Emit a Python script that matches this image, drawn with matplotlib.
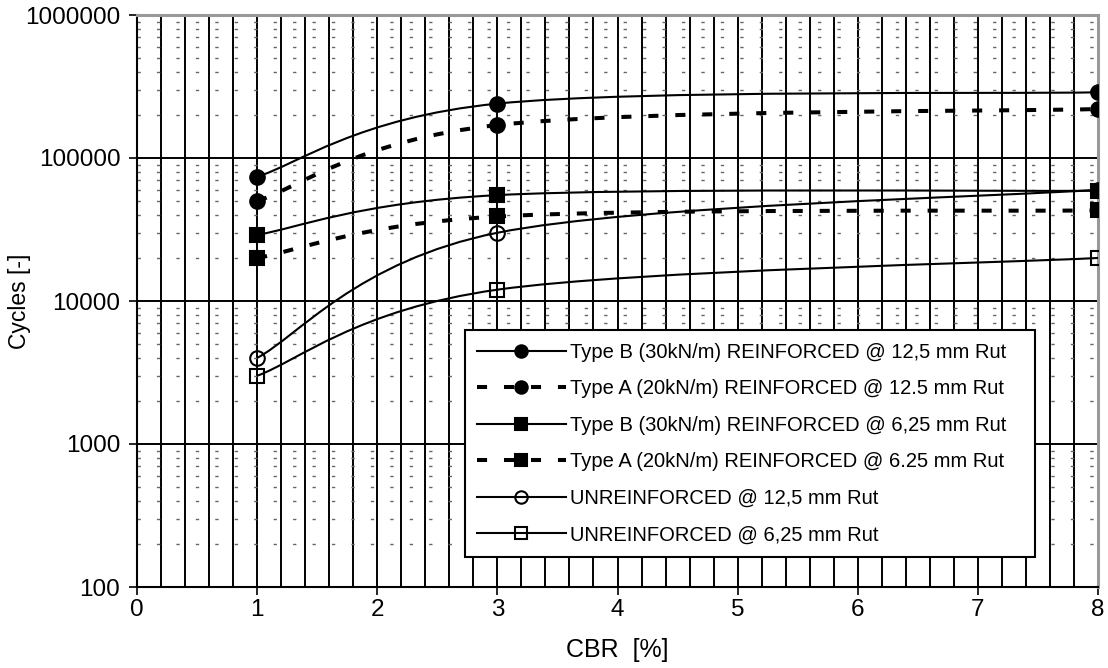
import numpy as np
import matplotlib
matplotlib.use("Agg")
import matplotlib.pyplot as plt
from matplotlib.path import Path
from matplotlib.patches import PathPatch
from matplotlib.lines import Line2D
from matplotlib.ticker import MultipleLocator, LogLocator, NullFormatter

plt.rcParams['font.family'] = ['Liberation Sans', 'DejaVu Sans']

# CBR values and cycles
cbr = [1, 3, 8]
type_b_125 = [74000, 240000, 288000]
type_a_125 = [50000, 170000, 220000]
type_b_625 = [29000, 55000, 59000]
type_a_625 = [20000, 39000, 43000]
unreinf_125 = [4000, 30000, 60000]
unreinf_625 = [3000, 12000, 20000]

series_labels = [
    "Type B (30kN/m) REINFORCED @ 12,5 mm Rut",
    "Type A (20kN/m) REINFORCED @ 12.5 mm Rut",
    "Type B (30kN/m) REINFORCED @ 6,25 mm Rut",
    "Type A (20kN/m) REINFORCED @ 6.25 mm Rut",
    "UNREINFORCED @ 12,5 mm Rut",
    "UNREINFORCED @ 6,25 mm Rut",
]
x_ticks = [0, 1, 2, 3, 4, 5, 6, 7, 8]
y_ticks = [100, 1000, 10000, 100000, 1000000]


def smooth_path(xs, ys):
    # excel-like smoothed line: bezier segments built in (x, log y) space
    px = np.array(xs, dtype=float)
    py = np.log10(np.array(ys, dtype=float))
    n = len(px)
    verts = [(px[0], py[0])]
    codes = [Path.MOVETO]
    for i in range(n - 1):
        i0 = max(i - 1, 0)
        i3 = min(i + 2, n - 1)
        c1 = (px[i] + (px[i + 1] - px[i0]) / 6, py[i] + (py[i + 1] - py[i0]) / 6)
        c2 = (px[i + 1] - (px[i3] - px[i]) / 6, py[i + 1] - (py[i3] - py[i]) / 6)
        verts += [c1, c2, (px[i + 1], py[i + 1])]
        codes += [Path.CURVE4] * 3
    verts = [(x, 10 ** y) for x, y in verts]
    return Path(verts, codes)


solid_lw = 1.5
dash_lw = 2.9
dash_style = (0, (2.5, 4.2))

styles = [
    # values, linestyle, lw, marker, size, face
    (type_b_125, '-', solid_lw, 'o', 10.5, 'black'),
    (type_a_125, dash_style, dash_lw, 'o', 10.5, 'black'),
    (type_b_625, '-', solid_lw, 's', 10, 'black'),
    (type_a_625, dash_style, dash_lw, 's', 10, 'black'),
    (unreinf_125, '-', solid_lw, 'o', 10.5, 'none'),
    (unreinf_625, '-', solid_lw, 's', 10.5, 'none'),
]

fig = plt.figure(figsize=(11.08, 6.68), dpi=100)
ax = fig.add_axes([137 / 1108, 1 - 587 / 668, (1098 - 137) / 1108, (587 - 15) / 668])
ax.set_yscale('log')
ax.set_xlim(0, 8)
ax.set_ylim(100, 1000000)

handles = []
for (vals, ls, lw, mk, ms, face), lab in zip(styles, series_labels):
    patch = PathPatch(smooth_path(cbr, vals), facecolor='none', edgecolor='black',
                      lw=lw, linestyle=ls, zorder=3, capstyle='butt')
    ax.add_patch(patch)
    ax.plot(cbr, vals, linestyle='none', marker=mk, markersize=ms,
            markerfacecolor=face, markeredgecolor='black', markeredgewidth=1.5, zorder=4)
    handles.append(Line2D([], [], color='black', lw=lw, linestyle=ls, marker=mk,
                          markersize=ms * 0.85, markerfacecolor=face,
                          markeredgecolor='black', markeredgewidth=1.5, label=lab))

# grid
ax.set_axisbelow(True)
ax.xaxis.set_minor_locator(MultipleLocator(0.2))
ax.yaxis.set_minor_locator(LogLocator(base=10, subs=np.arange(2, 10)))
ax.yaxis.set_minor_formatter(NullFormatter())
ax.grid(True, which='both', axis='x', color='black', lw=1.4)
ax.grid(True, which='major', axis='y', color='black', lw=1.4)
ax.grid(True, which='minor', axis='y', color='#666666', lw=1.0, linestyle=(0, (2.4, 11.6)))

ax.set_xticks(x_ticks)
ax.set_xticklabels([str(t) for t in x_ticks])
ax.set_yticks(y_ticks)
ax.set_yticklabels([str(t) for t in y_ticks])
ax.tick_params(which='major', direction='out', length=6, width=1.2, labelsize=17.5)
ax.tick_params(axis='x', which='major', pad=3)
ax.tick_params(axis='y', which='major', pad=6)
ax.tick_params(which='minor', length=0)

for side in ['left', 'bottom']:
    ax.spines[side].set_color('black')
    ax.spines[side].set_linewidth(1.5)
for side in ['top', 'right']:
    ax.spines[side].set_color('#999999')
    ax.spines[side].set_linewidth(2.2)

ax.set_xlabel("CBR  [%]", fontsize=18, labelpad=12)
ax.set_ylabel("Cycles [-]", fontsize=16.5)
ax.yaxis.set_label_coords(-0.11, 0.5)

leg = ax.legend(handles=handles, loc='upper left',
                bbox_to_anchor=(0.341, 0.056, 0.593, 0.393), mode='expand',
                borderaxespad=0, fontsize=14.5, handlelength=4.4, handletextpad=0.2,
                labelspacing=0.87, fancybox=False, framealpha=1, edgecolor='black',
                borderpad=0.62)
leg.get_frame().set_linewidth(1.5)
leg.set_zorder(5)

fig.savefig("out.png", dpi=100)
